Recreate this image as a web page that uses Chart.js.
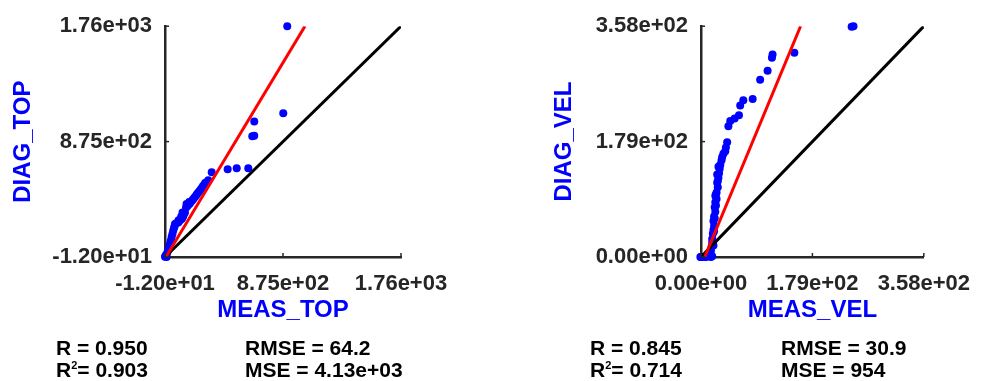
<!DOCTYPE html>
<html>
<head>
<meta charset="utf-8">
<script src="https://cdn.jsdelivr.net/npm/chart.js@4.4.0/dist/chart.umd.min.js"></script>
<style>
  body { margin: 0; background: #fff; }
  #wrap { position: relative; width: 984px; height: 381px; overflow: hidden; }
  canvas { position: absolute; top: 0; }
  .stats { position: absolute; font: bold 21px "Liberation Sans", Arial, sans-serif; color: #000; line-height: 22px; white-space: nowrap; }
  .stats sup { font-size: 11px; vertical-align: 8px; line-height: 0; }
</style>
</head>
<body>
<div id="wrap">
  <canvas id="topChart" width="492" height="381" style="left:0"></canvas>
  <canvas id="velChart" width="492" height="381" style="left:492px"></canvas>
</div>
<script>
const topMeas = [907, 877, 659, 644, 659, 614, 527, 459, 339, 313, 300, 289, 275, 264, 255, 246, 235, 226,
                 218, 208, 198, 189, 175, 163, 155, 146, 138, 130, 126, 120, 113, 100, 88, 75, 63, 57, 50,
                 44, 38, 32, 26, 20, 13, 5, -4, -8, -12, 0, 120, 150, 90, 110, 170, 60];
const topDiag = [1762, 1092, 1030, 916, 920, 670, 670, 662, 640, 577, 560, 557, 535, 519, 505, 494, 480, 469,
                 455, 443, 430, 418, 400, 388, 378, 368, 330, 318, 305, 292, 280, 268, 254, 250, 242, 215, 192,
                 165, 141, 115, 91, 65, 41, 20, 3, -5, -10, -12, 330, 395, 270, 300, 410, 225];
const topFitX = [-5, 1040];
const topFitY = [-12, 1762];
const topTicks = [-12, 875, 1762];
const topStats = ['0.950', '0.903', '64.2', '4.13e+03'];

// VEL: measured vs diagnosed
const velMeas = [245, 242, 150, 115, 114, 107, 95, 83, 68, 63, 61, 54, 47, 44, 42, 40, 39, 36, 34, 33, 31,
                 30, 29, 28, 27, 26, 25, 24, 23, 23, 22, 21, 21, 20, 20, 19, 18, 18, 17, 16, 15, 14, 12, 10,
                 8, 6, 4, 2, 0, -1, 16, 18, 25, 27, 22, 24, 21, 19, 20, 23, 26, 28];
const velDiag = [358, 357, 317, 314, 309, 289, 275, 245, 243, 235, 220, 215, 211, 203, 178, 170, 164, 160,
                 155, 150, 143, 137, 130, 123, 108, 115, 90, 97, 85, 70, 77, 63, 48, 56, 42, 36, 28, 22, 16,
                 10, 5, 3, 2, 1, 0, 0, 0, 0, 0, 0, 0, 1, 100, 118, 60, 80, 40, 25, 18, 95, 128, 140];
const velFitX = [6, 160];
const velFitY = [0, 358];
const velTicks = [0, 179, 358];
const velStats = ['0.845', '0.714', '30.9', '954'];

const FONT = '"Liberation Sans", Arial, sans-serif';
const AXIS = '#262626';

function fmt(v) {
  const parts = Number(v).toExponential(2).split('e');
  const exp = parts[1];
  return parts[0] + 'e' + exp[0] + exp.slice(1).padStart(2, '0');
}

// MATLAB-style inward tick marks
const innerTicks = {
  id: 'innerTicks',
  afterDraw(chart) {
    const { ctx, chartArea: a, scales: { x, y } } = chart;
    ctx.save();
    ctx.strokeStyle = AXIS;
    ctx.lineWidth = 1.5;
    x.ticks.forEach(t => {
      const px = x.getPixelForValue(t.value);
      ctx.beginPath(); ctx.moveTo(px, a.bottom); ctx.lineTo(px, a.bottom - 4); ctx.stroke();
    });
    y.ticks.forEach(t => {
      const py = y.getPixelForValue(t.value);
      ctx.beginPath(); ctx.moveTo(a.left, py); ctx.lineTo(a.left + 4, py); ctx.stroke();
    });
    ctx.restore();
  }
};

function axis(ticks, title, extra) {
  return Object.assign({
    type: 'linear',
    min: ticks[0],
    max: ticks[ticks.length - 1],
    afterBuildTicks: s => { s.ticks = ticks.map(v => ({ value: v })); },
    grid: { display: false, drawTicks: false },
    border: { display: true, color: AXIS, width: 2.5 },
    ticks: {
      color: AXIS, autoSkip: false, maxRotation: 0,
      font: { family: FONT, size: 22, weight: 'bold' },
      callback: v => fmt(v)
    },
    title: {
      display: true, text: title, color: '#0000ff', padding: 0,
      font: { family: FONT, size: 24, weight: 'bold' }
    }
  }, extra);
}

function makeChart(id, meas, diag, fitX, fitY, ticks, xTitle, yTitle, pad, yWidth) {
  const pts = meas.map((m, i) => ({ x: m, y: diag[i] }));
  const lo = ticks[0], hi = ticks[ticks.length - 1];
  const xAxis = axis(ticks, xTitle, { afterFit: s => { s.height = 68; } });
  xAxis.ticks.padding = 14;
  const yAxis = axis(ticks, yTitle, { afterFit: s => { s.width = yWidth; } });
  yAxis.ticks.padding = 13;
  new Chart(document.getElementById(id), {
    type: 'scatter',
    data: {
      datasets: [
        { data: fitX.map((v, i) => ({ x: v, y: fitY[i] })), showLine: true, borderColor: '#ff0000',
          borderWidth: 3, pointRadius: 0, order: 0 },
        { data: [{ x: lo, y: lo }, { x: hi, y: hi }], showLine: true, borderColor: '#000000',
          borderWidth: 3, pointRadius: 0, order: 1 },
        { data: pts, backgroundColor: '#0000ff', borderWidth: 0, pointRadius: 4, order: 2, clip: false }
      ]
    },
    options: {
      responsive: false,
      animation: false,
      events: [],
      layout: { padding: pad },
      plugins: { legend: { display: false }, tooltip: { enabled: false } },
      scales: { x: xAxis, y: yAxis }
    },
    plugins: [innerTicks]
  });
}

makeChart('topChart', topMeas, topDiag, topFitX, topFitY, topTicks, 'MEAS_TOP', 'DIAG_TOP',
  { left: 9, top: 22, right: 91, bottom: 56 }, 156);
makeChart('velChart', velMeas, velDiag, velFitX, velFitY, velTicks, 'MEAS_VEL', 'DIAG_VEL',
  { left: 58, top: 22, right: 47, bottom: 56 }, 151);

// stats blocks under each panel
function addStats(stats, left1, left2) {
  const wrap = document.getElementById('wrap');
  const a = document.createElement('div');
  a.className = 'stats';
  a.style.left = left1 + 'px';
  a.style.top = '337px';
  a.innerHTML = `R = ${stats[0]}<br>R<sup>2</sup>= ${stats[1]}`;
  wrap.appendChild(a);
  const b = document.createElement('div');
  b.className = 'stats';
  b.style.left = left2 + 'px';
  b.style.top = '337px';
  b.innerHTML = `RMSE = ${stats[2]}<br>MSE = ${stats[3]}`;
  wrap.appendChild(b);
}
addStats(topStats, 56, 245);
addStats(velStats, 590, 781);
</script>
</body>
</html>
